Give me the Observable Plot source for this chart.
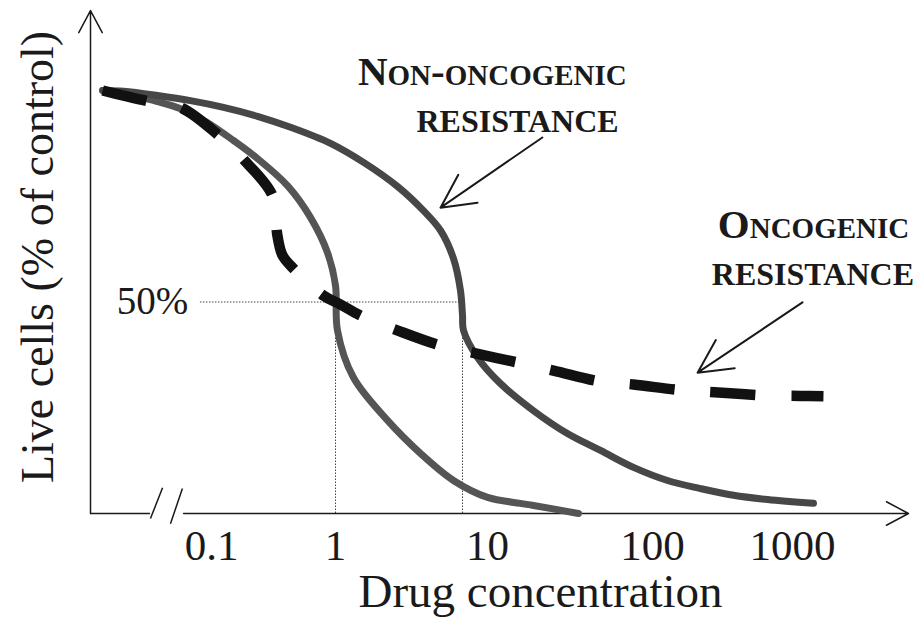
<!DOCTYPE html>
<html><head><meta charset="utf-8">
<script src="https://cdn.jsdelivr.net/npm/d3@7"></script>
<script src="https://cdn.jsdelivr.net/npm/@observablehq/plot@0.6"></script>
<style>html,body{margin:0;padding:0;background:#fff;}</style>
</head><body><div id="chart"></div>
<script>
// Tick labels of the (hand-drawn, log) concentration axis
const tickValues = [0.1, 1, 10, 100, 1000];
const tickLabels = ["0.1", "1", "10", "100", "1000"];

// Sensitive cells (inner solid curve)
const sensitiveConc = [0.0126, 0.0188, 0.0358, 0.0555, 0.0927, 0.150, 0.235, 0.410, 0.628, 0.861, 1.0, 1.03, 1.31, 2.20, 3.62, 5.97, 10, 15.8, 19.0, 35.6];
const sensitiveLive = [100, 99.1, 97.4, 95.7, 92.4, 88.2, 83.9, 77.5, 70.0, 61.7, 53.9, 43.3, 32.2, 22.0, 14.2, 7.8, 3.8, 2.4, 1.9, 0];

// Non-oncogenic resistance (outer solid curve)
const nonOncoConc = [0.0126, 0.0188, 0.0358, 0.0670, 0.125, 0.235, 0.434, 0.912, 1.53, 2.56, 3.79, 4.91, 5.97, 6.64, 6.85, 6.95, 8.60, 12.0, 19.0, 30.5, 48.4, 76.7, 128, 220, 379, 663, 1517];
const nonOncoLive = [100, 99.8, 98.8, 97.6, 96.0, 93.9, 91.3, 87.5, 83.0, 77.3, 71.6, 66.9, 60.3, 52.7, 46.8, 43.3, 36.9, 30.7, 24.3, 18.9, 14.9, 10.9, 7.8, 5.9, 4.3, 3.3, 2.4];

// Oncogenic resistance (dashed curve)
const oncoConc = [0.0126, 0.0188, 0.0285, 0.0555, 0.114, 0.181, 0.310, 0.340, 0.374, 0.458, 0.80, 1.08, 1.46, 2.68, 4.91, 7.73, 15.2, 25.1, 48.4, 76.7, 164, 296, 641, 1172, 1849];
const oncoLive = [100, 98.8, 97.6, 96.0, 89.4, 83.7, 75.2, 65.7, 61.0, 57.9, 51.5, 49.4, 46.8, 43.0, 39.7, 38.1, 35.7, 33.8, 31.2, 30.5, 29.1, 28.6, 27.9, 27.8, 27.7];

// IC50 guide values
const halfLevel = 50;
const ic50 = [1, 6.85];

const toRows = (xs, ys) => xs.map((x, i) => ({x, y: ys[i]}));
const sensitive = toRows(sensitiveConc, sensitiveLive);
const nonOnco = toRows(nonOncoConc, nonOncoLive);
const onco = toRows(oncoConc, oncoLive);

const serif = "'Liberation Serif', 'Times New Roman', serif";
const ink = "#1a1a1a";

const labelStyle = {fontFamily: serif, fontWeight: "bold", fontVariant: "small-caps", fill: ink, textAnchor: "middle", lineAnchor: "middle"};

const chart = Plot.plot({
  width: 918,
  height: 618,
  marginLeft: 90,
  marginRight: 10,
  marginTop: 10,
  marginBottom: 105,
  style: {fontFamily: serif, fontSize: "43px", color: ink, background: "#fff"},
  x: {
    type: "log",
    domain: [0.01, 0.1, 1, 10, 100, 1000, 10000],
    range: [90, 211, 335, 487, 652, 792, 908],
    ticks: tickValues,
    tickFormat: (d) => tickLabels[tickValues.indexOf(d)],
    tickSize: 0,
    tickPadding: 16,
    label: null
  },
  y: {domain: [0, 100], range: [513, 90], axis: null},
  marks: [
    // guides
    Plot.ruleY([halfLevel], {x1: 0.081, x2: ic50[1], stroke: "#444", strokeWidth: 1, strokeDasharray: "1.5,1.5"}),
    Plot.ruleX(ic50, {y1: 0, y2: halfLevel, stroke: "#444", strokeWidth: 1, strokeDasharray: "1.5,1.5"}),
    // axes
    Plot.ruleY([0], {x1: 0.01, x2: 0.0313, stroke: ink, strokeWidth: 1.5}),
    Plot.arrow([{x1: 0.0588, y1: 0, x2: 10000, y2: 0}], {x1: "x1", y1: "y1", x2: "x2", y2: "y2", stroke: ink, strokeWidth: 1.5, headAngle: 56, headLength: 25}),
    Plot.arrow([{x1: 0.01, y1: 0, x2: 0.01, y2: 118.9}], {x1: "x1", y1: "y1", x2: "x2", y2: "y2", stroke: ink, strokeWidth: 1.5, headAngle: 56, headLength: 25}),
    Plot.link([{x1: 0.0313, y1: -1.2, x2: 0.0394, y2: 6.1}, {x1: 0.0458, y1: -2.4, x2: 0.0575, y2: 5.9}], {x1: "x1", y1: "y1", x2: "x2", y2: "y2", stroke: ink, strokeWidth: 1.5}),
    // curves
    Plot.line(sensitive, {x: "x", y: "y", curve: "catmull-rom", stroke: "#555", strokeWidth: 7}),
    Plot.line(nonOnco, {x: "x", y: "y", curve: "catmull-rom", stroke: "#474747", strokeWidth: 7}),
    Plot.line(onco, {x: "x", y: "y", curve: "catmull-rom", stroke: "#111", strokeWidth: 10.5, strokeDasharray: "45,36", strokeLinecap: "butt"}),
    // annotation arrows
    Plot.arrow([{x1: 21.5, y1: 88.9, x2: 4.91, y2: 72.3}], {x1: "x1", y1: "y1", x2: "x2", y2: "y2", stroke: ink, strokeWidth: 2, headAngle: 54, headLength: 28}),
    Plot.arrow([{x1: 1219, y1: 49.9, x2: 210, y2: 33.3}], {x1: "x1", y1: "y1", x2: "x2", y2: "y2", stroke: ink, strokeWidth: 2, headAngle: 54, headLength: 28}),
    // labels
    Plot.text(["Non-oncogenic"], {x: 10.7, y: 104.3, text: (d) => d, fontSize: 41, ...labelStyle}),
    Plot.text(["resistance"], {x: 15.2, y: 93.6, text: (d) => d, fontSize: 46, ...labelStyle}),
    Plot.text(["Oncogenic"], {x: 1517, y: 68.2, text: (d) => d, fontSize: 41, ...labelStyle}),
    Plot.text(["resistance"], {x: 1500, y: 57.6, text: (d) => d, fontSize: 46, ...labelStyle}),
    Plot.text(["50%"], {x: 0.0325, y: halfLevel, text: (d) => d, fontFamily: serif, fontSize: 39, fill: ink, lineAnchor: "middle"}),
    // axis titles
    Plot.text(["Drug concentration"], {frameAnchor: "bottom", text: (d) => d, dx: 41, dy: 78, lineAnchor: "middle", textAnchor: "middle", fontFamily: serif, fontSize: 47, fill: ink}),
    Plot.text(["Live cells (% of control)"], {frameAnchor: "left", text: (d) => d, rotate: -90, dx: -52, dy: -5, lineAnchor: "middle", textAnchor: "middle", fontFamily: serif, fontSize: 46, fill: ink})
  ]
});
document.getElementById("chart").appendChild(chart);
</script>
</body></html>
